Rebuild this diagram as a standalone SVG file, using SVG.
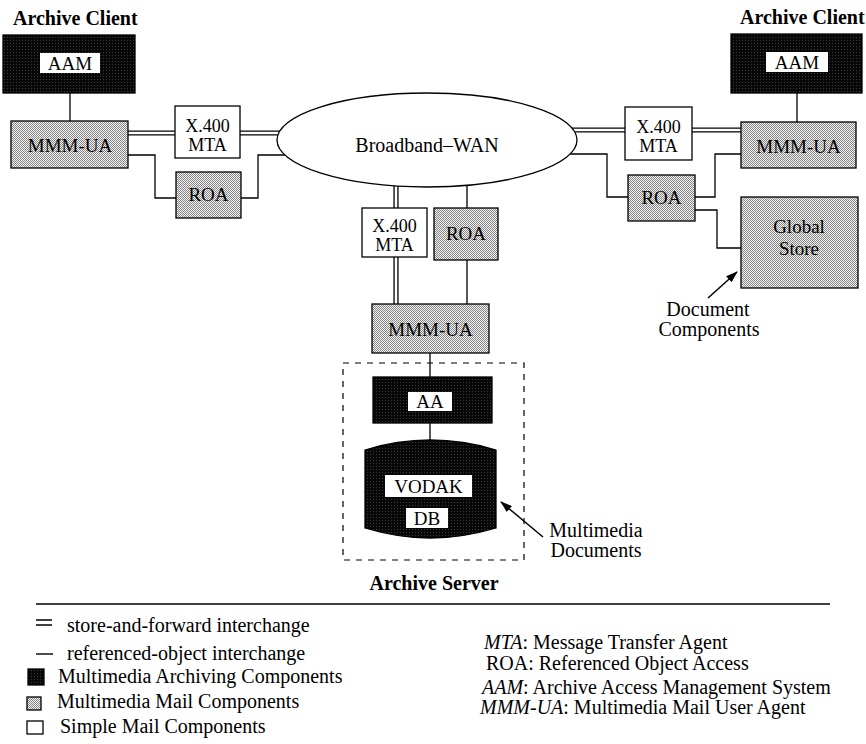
<svg xmlns="http://www.w3.org/2000/svg" width="866" height="744" viewBox="0 0 866 744">
  <defs>
    <!-- stippled grey for multimedia mail components -->
    <pattern id="stipple" width="2" height="2" patternUnits="userSpaceOnUse">
      <rect width="2" height="2" fill="#f4f4f4"/>
      <rect width="1" height="1" fill="#858585"/>
      <rect x="1" y="1" width="1" height="1" fill="#858585"/>
    </pattern>
    <!-- near-black grain for archiving components -->
    <pattern id="dark" width="3" height="3" patternUnits="userSpaceOnUse">
      <rect width="3" height="3" fill="#080808"/>
      <rect x="1" y="1" width="1" height="1" fill="#3a3a3a"/>
    </pattern>
    <marker id="arrow" viewBox="0 0 12 8" refX="11" refY="4" markerWidth="12" markerHeight="8" markerUnits="userSpaceOnUse" orient="auto">
      <path d="M0,0 L12,4 L0,8 Z" fill="#000"/>
    </marker>
    <style>
      .lbl { font-family: "Liberation Serif", "Times New Roman", serif; font-size: 20px; fill: #000; }
      .box-lbl { font-family: "Liberation Serif", "Times New Roman", serif; font-size: 19px; fill: #000; text-anchor: middle; }
      .mta { font-size: 18px; }
      .title { font-family: "Liberation Serif", "Times New Roman", serif; font-size: 20px; font-weight: bold; fill: #000; }
      .mail { fill: url(#stipple); stroke: #000; stroke-width: 1.3; }
      .simple { fill: #fff; stroke: #000; stroke-width: 1.3; }
      .arch { fill: url(#dark); stroke: #000; stroke-width: 1.3; }
      .tag { fill: #fff; stroke: none; }
      .dbl-o { fill: none; stroke: #000; stroke-width: 5.2; }
      .dbl-i { fill: none; stroke: #fff; stroke-width: 2.6; }
      .ref { fill: none; stroke: #000; stroke-width: 1.3; }
      .pointer { fill: none; stroke: #000; stroke-width: 1.5; marker-end: url(#arrow); }
    </style>
  </defs>

  <rect width="866" height="744" fill="#fff"/>

  <!-- connectors -->
  <g id="connectors">
    <!-- store-and-forward (double) links -->
    <path class="dbl-o" d="M120,133 H180 M235,133 H300 M560,130 H630 M688,130 H745 M396,170 V215 M396,250 V310"/>
    <path class="dbl-i" d="M120,133 H180 M235,133 H300 M560,130 H630 M688,130 H745 M396,170 V215 M396,250 V310"/>
    <!-- referenced-object links -->
    <path class="ref" d="M70,93 V122"/>
    <path class="ref" d="M128,155 H155 V198 H176"/>
    <path class="ref" d="M241,198 H258 V155 H300"/>
    <path class="ref" d="M797,93 V122"/>
    <path class="ref" d="M560,154 H607 V197 H628"/>
    <path class="ref" d="M695,197 H715 V154 H741"/>
    <path class="ref" d="M695,210 H717 V248 H741"/>
    <path class="ref" d="M467,170 V208 M467,260 V304"/>
    <path class="ref" d="M430,353 V377 M430,423 V442"/>
  </g>

  <!-- left archive client -->
  <g id="client-left">
    <text class="title" x="13" y="25">Archive Client</text>
    <g id="aam-left">
      <rect class="arch" x="3" y="35" width="132" height="58"/>
      <rect class="tag" x="40" y="53" width="60" height="20"/>
      <text class="box-lbl" x="70" y="70">AAM</text>
    </g>
    <g id="mmmua-left">
      <rect class="mail" x="11" y="121" width="117" height="47"/>
      <text class="box-lbl" x="70" y="152" font-size="20">MMM-UA</text>
    </g>
    <g id="mta-left">
      <rect class="simple" x="175" y="106" width="65" height="52"/>
      <text class="box-lbl mta" x="207.5" y="132">X.400</text>
      <text class="box-lbl mta" x="207.5" y="151">MTA</text>
    </g>
    <g id="roa-left">
      <rect class="mail" x="176" y="172" width="65" height="46"/>
      <text class="box-lbl" x="208.5" y="201">ROA</text>
    </g>
  </g>

  <!-- wide area network -->
  <g id="wan">
    <ellipse cx="427" cy="140" rx="150" ry="47" fill="#fff" stroke="#000" stroke-width="1.3"/>
    <text class="lbl" x="427" y="152" text-anchor="middle" font-size="19.5">Broadband–WAN</text>
  </g>

  <!-- right archive client -->
  <g id="client-right">
    <text class="title" x="740" y="24">Archive Client</text>
    <g id="aam-right">
      <rect class="arch" x="731" y="34" width="131" height="59"/>
      <rect class="tag" x="766" y="52" width="62" height="20"/>
      <text class="box-lbl" x="797" y="69">AAM</text>
    </g>
    <g id="mta-right">
      <rect class="simple" x="625" y="107" width="67" height="53"/>
      <text class="box-lbl mta" x="658.5" y="133">X.400</text>
      <text class="box-lbl mta" x="658.5" y="152">MTA</text>
    </g>
    <g id="mmmua-right">
      <rect class="mail" x="741" y="122" width="115" height="46"/>
      <text class="box-lbl" x="798.5" y="153" font-size="20">MMM-UA</text>
    </g>
    <g id="roa-right">
      <rect class="mail" x="628" y="175" width="67" height="46"/>
      <text class="box-lbl" x="661.5" y="204">ROA</text>
    </g>
    <g id="global-store">
      <rect class="mail" x="741" y="197" width="117" height="91"/>
      <text class="box-lbl" x="799" y="233">Global</text>
      <text class="box-lbl" x="799" y="255">Store</text>
    </g>
    <g id="note-document">
      <path class="pointer" d="M708,298 L737,272"/>
      <text class="lbl" x="708" y="316" text-anchor="middle" font-size="19">Document</text>
      <text class="lbl" x="709" y="336" text-anchor="middle" font-size="19">Components</text>
    </g>
  </g>

  <!-- archive server -->
  <g id="server">
    <g id="mta-center">
      <rect class="simple" x="362" y="208" width="65" height="49"/>
      <text class="box-lbl mta" x="394.5" y="232">X.400</text>
      <text class="box-lbl mta" x="394.5" y="251">MTA</text>
    </g>
    <g id="roa-center">
      <rect class="mail" x="434" y="208" width="64" height="52"/>
      <text class="box-lbl" x="466" y="240">ROA</text>
    </g>
    <g id="mmmua-center">
      <rect class="mail" x="372" y="304" width="117" height="49"/>
      <text class="box-lbl" x="430.5" y="336" font-size="20">MMM-UA</text>
    </g>
    <rect x="343" y="363" width="181" height="197" fill="none" stroke="#000" stroke-width="1.2" stroke-dasharray="6 6"/>
    <g id="aa">
      <rect class="arch" x="373" y="377" width="119" height="46"/>
      <rect class="tag" x="408" y="392" width="44" height="19"/>
      <text class="box-lbl" x="430" y="408">AA</text>
    </g>
    <g id="vodak-db">
      <path class="arch" d="M365,450 Q430,430 496,450 L496,528 Q430,548 365,528 Z"/>
      <rect class="tag" x="385" y="475" width="87" height="22"/>
      <text class="box-lbl" x="428.5" y="493">VODAK</text>
      <rect class="tag" x="406" y="508" width="42" height="20"/>
      <text class="box-lbl" x="427" y="525">DB</text>
    </g>
    <g id="note-multimedia">
      <path class="pointer" d="M543,537 L501,502"/>
      <text class="lbl" x="596" y="537" text-anchor="middle" font-size="19">Multimedia</text>
      <text class="lbl" x="596" y="557" text-anchor="middle" font-size="19">Documents</text>
    </g>
    <text class="title" x="434" y="590" text-anchor="middle">Archive Server</text>
  </g>

  <!-- legend -->
  <g id="legend">
    <line x1="36" y1="604" x2="830" y2="604" stroke="#000" stroke-width="1.5"/>
    <path d="M36,620 H52 M36,625 H52" stroke="#000" stroke-width="1.4"/>
    <text class="lbl" x="67" y="632">store-and-forward interchange</text>
    <path d="M36,654 H53" stroke="#000" stroke-width="1.4"/>
    <text class="lbl" x="67" y="660">referenced-object interchange</text>
    <rect class="arch" x="28" y="669" width="16" height="16"/>
    <text class="lbl" x="58" y="683">Multimedia Archiving Components</text>
    <rect class="mail" x="27" y="697" width="14" height="13"/>
    <text class="lbl" x="57" y="708">Multimedia Mail Components</text>
    <rect class="simple" x="27" y="721" width="16" height="13"/>
    <text class="lbl" x="60" y="733">Simple Mail Components</text>

    <text class="lbl" x="484" y="649"><tspan font-style="italic">MTA</tspan>: Message Transfer Agent</text>
    <text class="lbl" x="486" y="670">ROA: Referenced Object Access</text>
    <text class="lbl" x="482" y="694"><tspan font-style="italic">AAM</tspan>: Archive Access Management System</text>
    <text class="lbl" x="480" y="714"><tspan font-style="italic">MMM-UA</tspan>: Multimedia Mail User Agent</text>
  </g>
</svg>
